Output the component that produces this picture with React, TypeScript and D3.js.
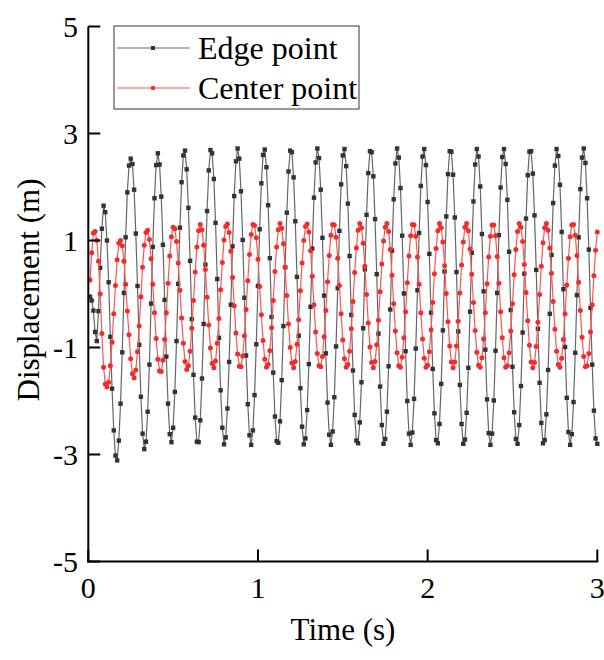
import React from 'react';
import * as d3 from 'd3';

// Sampling of the displacement records (seconds)
const timeStart = 0.01;
const timeStep = 0.01;

// Edge point displacement (m), one value per sample
const edgePoint = [
  -0.05, -0.12, -0.31, -0.71, -0.88, -0.32, 0.49, 1.22, 1.65, 1.53,
  1.00, 0.22, -0.80, -1.77, -2.55, -3.02, -3.11, -2.74, -2.05, -1.09,
  0.02, 1.06, 1.90, 2.40, 2.53, 2.43, 1.95, 1.13, 0.15, -0.95,
  -1.92, -2.61, -2.90, -2.76, -2.20, -1.32, -0.18, 0.88, 1.79, 2.41,
  2.63, 2.42, 1.82, 0.92, -0.11, -1.17, -2.05, -2.62, -2.77, -2.50,
  -1.83, -0.88, 0.19, 1.24, 2.09, 2.59, 2.68, 2.33, 1.61, 0.62,
  -0.47, -1.51, -2.31, -2.76, -2.77, -2.36, -1.58, -0.56, 0.55, 1.55,
  2.31, 2.69, 2.63, 2.15, 1.33, 0.28, -0.82, -1.80, -2.50, -2.81,
  -2.68, -2.14, -1.27, -0.20, 0.89, 1.83, 2.48, 2.72, 2.53, 1.92,
  1.01, -0.07, -1.15, -2.06, -2.64, -2.82, -2.55, -1.89, -0.94, 0.15,
  1.21, 2.07, 2.60, 2.70, 2.37, 1.66, 0.67, -0.43, -1.47, -2.29,
  -2.75, -2.78, -2.38, -1.61, -0.60, 0.50, 1.52, 2.29, 2.68, 2.65,
  2.18, 1.36, 0.32, -0.78, -1.76, -2.48, -2.81, -2.70, -2.17, -1.31,
  -0.24, 0.85, 1.80, 2.46, 2.72, 2.54, 1.95, 1.05, -0.03, -1.11,
  -2.03, -2.63, -2.82, -2.57, -1.93, -0.98, 0.11, 1.18, 2.05, 2.59,
  2.71, 2.39, 1.69, 0.71, -0.39, -1.43, -2.26, -2.74, -2.79, -2.40,
  -1.65, -0.64, 0.46, 1.48, 2.26, 2.67, 2.65, 2.20, 1.40, 0.37,
  -0.74, -1.73, -2.45, -2.80, -2.71, -2.20, -1.35, -0.29, 0.81, 1.77,
  2.44, 2.72, 2.55, 1.98, 1.09, 0.01, -1.07, -2.00, -2.61, -2.82,
  -2.59, -1.96, -1.02, 0.07, 1.14, 2.02, 2.57, 2.71, 2.41, 1.72,
  0.75, -0.35, -1.40, -2.23, -2.73, -2.79, -2.43, -1.68, -0.68, 0.42,
  1.45, 2.24, 2.67, 2.66, 2.23, 1.43, 0.41, -0.70, -1.70, -2.43,
  -2.80, -2.72, -2.22, -1.38, -0.33, 0.77, 1.73, 2.42, 2.71, 2.57,
  2.01, 1.12, 0.05, -1.04, -1.97, -2.60, -2.82, -2.61, -1.99, -1.06,
  0.02, 1.10, 1.99, 2.56, 2.71, 2.43, 1.76, 0.79, -0.30, -1.36,
  -2.21, -2.71, -2.80, -2.45, -1.72, -0.72, 0.38, 1.41, 2.22, 2.66,
  2.67, 2.25, 1.47, 0.45, -0.65, -1.66, -2.41, -2.79, -2.73, -2.25,
  -1.42, -0.37, 0.73, 1.70, 2.40, 2.71, 2.58, 2.04, 1.16, 0.09,
  -0.99, -1.94, -2.58, -2.82, -2.62, -2.02, -1.10, -0.02, 1.06, 1.96,
  2.55, 2.72, 2.45, 1.79, 0.83, -0.26, -1.32, -2.18, -2.70, -2.80,
];

// Center point displacement (m), one value per sample
const centerPoint = [
  0.26, 0.77, 1.14, 1.17, 1.00, 0.61, 0.00, -0.74, -1.37, -1.68,
  -1.74, -1.65, -1.34, -0.90, -0.37, 0.16, 0.64, 0.95, 1.00, 0.90,
  0.61, 0.18, -0.32, -0.76, -1.21, -1.49, -1.57, -1.42, -1.08, -0.60,
  -0.05, 0.50, 0.91, 1.15, 1.19, 1.02, 0.66, 0.18, -0.35, -0.83,
  -1.22, -1.44, -1.45, -1.24, -0.85, -0.35, 0.20, 0.71, 1.07, 1.25,
  1.22, 0.98, 0.58, 0.07, -0.45, -0.92, -1.26, -1.41, -1.34, -1.07,
  -0.64, -0.12, 0.41, 0.88, 1.18, 1.30, 1.20, 0.91, 0.46, -0.06,
  -0.58, -1.01, -1.30, -1.38, -1.25, -0.92, -0.46, 0.08, 0.59, 1.01,
  1.26, 1.31, 1.15, 0.80, 0.31, -0.22, -0.73, -1.12, -1.35, -1.36,
  -1.16, -0.78, -0.29, 0.25, 0.74, 1.11, 1.30, 1.28, 1.05, 0.65,
  0.14, -0.39, -0.87, -1.22, -1.37, -1.32, -1.06, -0.63, -0.12, 0.42,
  0.88, 1.20, 1.32, 1.23, 0.94, 0.50, -0.03, -0.56, -1.00, -1.29,
  -1.38, -1.26, -0.94, -0.48, 0.06, 0.58, 1.00, 1.26, 1.31, 1.16,
  0.81, 0.33, -0.20, -0.71, -1.11, -1.34, -1.36, -1.17, -0.80, -0.31,
  0.23, 0.72, 1.10, 1.30, 1.29, 1.06, 0.67, 0.16, -0.37, -0.86,
  -1.21, -1.37, -1.32, -1.07, -0.65, -0.14, 0.40, 0.86, 1.19, 1.32,
  1.24, 0.95, 0.52, -0.01, -0.54, -0.99, -1.28, -1.38, -1.26, -0.95,
  -0.49, 0.04, 0.56, 0.99, 1.25, 1.32, 1.17, 0.83, 0.35, -0.18,
  -0.69, -1.10, -1.34, -1.37, -1.18, -0.82, -0.33, 0.21, 0.71, 1.09,
  1.30, 1.29, 1.08, 0.69, 0.18, -0.35, -0.84, -1.20, -1.37, -1.33,
  -1.08, -0.67, -0.16, 0.38, 0.85, 1.18, 1.32, 1.24, 0.97, 0.53,
  0.01, -0.52, -0.97, -1.27, -1.38, -1.27, -0.97, -0.51, 0.02, 0.54,
  0.97, 1.25, 1.32, 1.18, 0.84, 0.37, -0.16, -0.68, -1.09, -1.33,
  -1.37, -1.19, -0.84, -0.35, 0.19, 0.69, 1.08, 1.29, 1.29, 1.09,
  0.70, 0.20, -0.33, -0.82, -1.19, -1.37, -1.34, -1.10, -0.69, -0.18,
  0.36, 0.83, 1.17, 1.32, 1.25, 0.98, 0.55, 0.03, -0.50, -0.96,
  -1.27, -1.38, -1.28, -0.98, -0.53, -0.01, 0.52, 0.96, 1.24, 1.32,
  1.19, 0.86, 0.39, -0.14, -0.66, -1.07, -1.32, -1.37, -1.20, -0.85,
  -0.37, 0.17, 0.67, 1.07, 1.29, 1.30, 1.10, 0.72, 0.22, -0.31,
  -0.81, -1.17, -1.36, -1.34, -1.11, -0.71, -0.20, 0.34, 0.82, 1.16,
];

const xTicks = [0, 1, 2, 3];
const yTicks = [-5, -3, -1, 1, 3, 5];
const seriesNames = ['Edge point', 'Center point'];

const WIDTH = 604;
const HEIGHT = 660;
const FONT = "'Liberation Serif', 'Times New Roman', serif";

const EDGE_LINE = '#666666';
const EDGE_MARK = '#333333';
const CENTER_LINE = '#ff5252';
const CENTER_MARK = '#f02c2c';

export default function App() {
  const x = d3.scaleLinear().domain([0, 3]).range([88.3, 597.3]);
  const y = d3.scaleLinear().domain([-5, 5]).range([561.5, 26.5]);

  const edgeData = edgePoint.map((v, i) => [timeStart + i * timeStep, v] as [number, number]);
  const centerData = centerPoint.map((v, i) => [timeStart + i * timeStep, v] as [number, number]);

  const line = d3
    .line<[number, number]>()
    .x((d) => x(d[0]))
    .y((d) => y(d[1]));

  const sq = 4.4;
  const r = 2.5;
  const [x0, x1] = x.range();
  const [yb, yt] = y.range();

  return (
    <svg
      width={WIDTH}
      height={HEIGHT}
      style={{ position: 'absolute', left: 0, top: 0, background: '#fff' }}
      fontFamily={FONT}
    >
      <rect x={0} y={0} width={WIDTH} height={HEIGHT} fill="#fff" />

      {/* Edge point series */}
      <path d={line(edgeData) || ''} fill="none" stroke={EDGE_LINE} strokeWidth={1.2} />
      {edgeData.map((d, i) => (
        <rect
          key={'e' + i}
          x={x(d[0]) - sq / 2}
          y={y(d[1]) - sq / 2}
          width={sq}
          height={sq}
          fill={EDGE_MARK}
        />
      ))}

      {/* Center point series */}
      <path d={line(centerData) || ''} fill="none" stroke={CENTER_LINE} strokeWidth={1.2} />
      {centerData.map((d, i) => (
        <circle key={'c' + i} cx={x(d[0])} cy={y(d[1])} r={r} fill={CENTER_MARK} />
      ))}

      {/* Axes */}
      <line x1={x0} x2={x0} y1={yt} y2={yb + 1} stroke="#000" strokeWidth={2} />
      <line x1={x0 - 1} x2={x1 + 1} y1={yb} y2={yb} stroke="#000" strokeWidth={2} />
      {yTicks.map((t) => (
        <g key={'yt' + t}>
          <line x1={x0} x2={x0 + 12} y1={y(t)} y2={y(t)} stroke="#000" strokeWidth={2} />
          <text x={78} y={y(t)} dy="0.35em" textAnchor="end" fontSize={30} fill="#000">
            {t}
          </text>
        </g>
      ))}
      {xTicks.map((t) => (
        <g key={'xt' + t}>
          <line x1={x(t)} x2={x(t)} y1={yb} y2={yb - 12} stroke="#000" strokeWidth={2} />
          <text x={x(t)} y={598} textAnchor="middle" fontSize={30} fill="#000">
            {t}
          </text>
        </g>
      ))}

      {/* Axis titles */}
      <text x={343} y={640} textAnchor="middle" fontSize={31} fill="#000">
        Time (s)
      </text>
      <text transform="translate(39,290) rotate(-90)" textAnchor="middle" fontSize={31} fill="#000">
        Displacement (m)
      </text>

      {/* Legend */}
      <rect x={114} y={26} width={245} height={83} fill="#fff" stroke="#333" strokeWidth={1} />
      <line x1={117} x2={190} y1={48} y2={48} stroke={EDGE_LINE} strokeWidth={1.2} />
      <rect x={153 - 2} y={48 - 2} width={4} height={4} fill={EDGE_MARK} />
      <text x={198} y={59} fontSize={32} fill="#000">
        {seriesNames[0]}
      </text>
      <line x1={117} x2={190} y1={88} y2={88} stroke={CENTER_LINE} strokeWidth={1.2} />
      <circle cx={153} cy={88} r={2.3} fill={CENTER_MARK} />
      <text x={198} y={99} fontSize={32} fill="#000">
        {seriesNames[1]}
      </text>
    </svg>
  );
}
